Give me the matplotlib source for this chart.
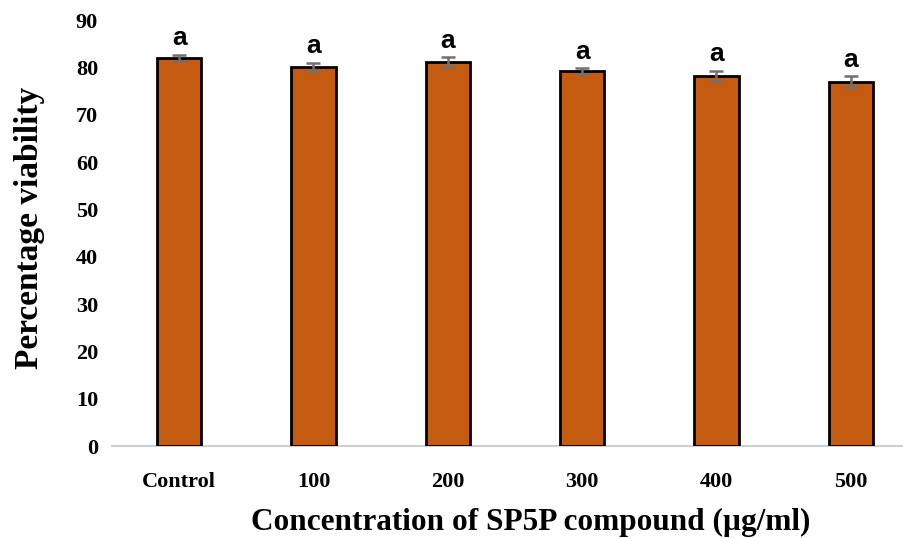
import matplotlib
matplotlib.use('Agg')
import numpy as np
import matplotlib.pyplot as plt

categories = ['Control', '100', '200', '300', '400', '500']
viability = [82.0, 80.1, 81.1, 79.2, 78.2, 77.0]
sd = [0.7, 0.9, 1.0, 0.6, 1.1, 1.1]
letters = ['a', 'a', 'a', 'a', 'a', 'a']

fig = plt.figure(figsize=(9.04, 5.38), dpi=100)
ax = fig.add_axes([112 / 904, 92 / 538, 806 / 904, 426 / 538])

x = np.arange(len(categories))
ax.bar(x, viability, width=0.33, color='#C55A11', edgecolor='black', linewidth=2,
       yerr=sd, ecolor='#707070', capsize=5, error_kw={'elinewidth': 1.8, 'capthick': 1.8},
       zorder=3)

# significance letters sit just above each error bar
for xi, v, e, t in zip(x, viability, sd, letters):
    ax.annotate(t, (xi, v + e), xytext=(0, 3), textcoords='offset points',
                ha='center', va='bottom', fontsize=19, fontweight='bold',
                family='Liberation Sans')

ax.set_xlim(-0.5, 5.5)
ax.set_ylim(0, 90)
ax.set_yticks(range(0, 91, 10))
ax.set_xticks(x)
ax.set_xticklabels(categories)

for lab in ax.get_xticklabels() + ax.get_yticklabels():
    lab.set_family('Liberation Serif')
    lab.set_fontweight('bold')
    lab.set_fontsize(16)

ax.tick_params(axis='both', length=0)
ax.tick_params(axis='y', pad=10)
ax.tick_params(axis='x', pad=19)

for s in ['top', 'right', 'left']:
    ax.spines[s].set_visible(False)
ax.spines['bottom'].set_color('#d0d0d0')
ax.spines['bottom'].set_linewidth(1.5)

fig.text(531 / 904, 1 - 522 / 538, 'Concentration of SP5P compound (\u00b5g/ml)',
         ha='center', va='center', fontsize=22.5, fontweight='bold', family='Liberation Serif')
fig.text(30 / 904, 1 - 228 / 538, 'Percentage viability', rotation=90,
         ha='center', va='center', fontsize=24, fontweight='bold', family='Liberation Serif')

fig.savefig('out.png', dpi=100)
